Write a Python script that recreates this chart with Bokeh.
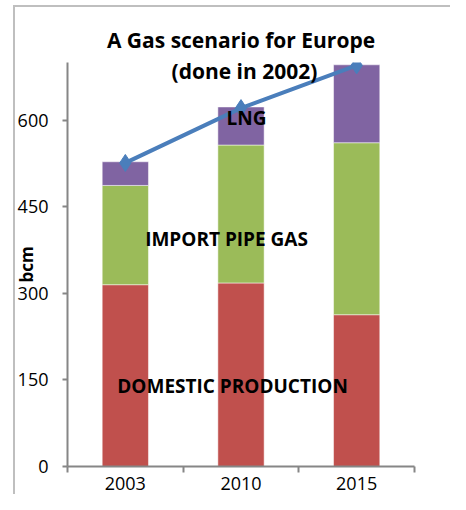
from bokeh.plotting import figure
from bokeh.models import ColumnDataSource, FixedTicker, Label, Range1d, InlineStyleSheet
from bokeh.embed import file_html
from bokeh.resources import INLINE

years = ["2003", "2010", "2015"]
domestic = [315, 318, 263]
import_pipe = [172, 239, 298]
lng = [41, 66, 135]
total = [526, 621, 695]
y_ticks = [0, 150, 300, 450, 600]

xpos = [i + 0.5 for i in range(len(years))]
src = ColumnDataSource(dict(x=xpos, domestic=domestic, import_pipe=import_pipe, lng=lng, total=total))

p = figure(width=450, height=494, output_backend="svg", toolbar_location=None,
           x_range=Range1d(0, 3), y_range=Range1d(0, 700),
           min_border_left=67, min_border_right=36, min_border_top=62, min_border_bottom=28,
           title="A Gas scenario for Europe")
p.outline_line_color = None
p.grid.visible = False

p.title.align = "center"
p.title.text_font = "Open Sans"
p.title.text_font_style = "bold"
p.title.text_font_size = "21px"
p.title.text_color = "black"
p.title.standoff = 17

p.vbar_stack(["domestic", "import_pipe", "lng"], x="x", width=0.4, source=src,
             color=["#C0504D", "#9BBB59", "#8064A2"], line_color="white", line_width=0.5)
p.line("x", "total", source=src, line_color="#4A7EBB", line_width=4)
p.scatter("x", "total", source=src, marker="diamond", size=17, fill_color="#4A7EBB", line_color="#4A7EBB")

ax = p.yaxis[0]
ax.ticker = FixedTicker(ticks=y_ticks)
ax.axis_line_color = "#868686"
ax.axis_line_width = 2
ax.major_tick_line_color = "#868686"
ax.major_tick_line_width = 2
ax.major_tick_out = 5
ax.major_tick_in = 0
ax.minor_tick_line_color = None
ax.major_label_standoff = 14
ax.major_label_text_font = "Open Sans"
ax.major_label_text_font_size = "18px"
ax.major_label_text_color = "black"
ax.axis_label = "bcm"
ax.axis_label_text_font = "Open Sans"
ax.axis_label_text_font_style = "bold"
ax.axis_label_text_font_size = "17px"
ax.axis_label_text_color = "black"
ax.axis_label_standoff = -23

bx = p.xaxis[0]
bx.ticker = FixedTicker(ticks=xpos, minor_ticks=[0, 1, 2, 3])
bx.major_label_overrides = {x: y for x, y in zip(xpos, years)}
bx.axis_line_color = "#868686"
bx.axis_line_width = 2
bx.major_tick_line_color = None
bx.major_tick_out = 0
bx.minor_tick_line_color = "#868686"
bx.minor_tick_line_width = 2
bx.minor_tick_out = 6
bx.minor_tick_in = 0
bx.major_label_standoff = 4
bx.major_label_text_font = "Open Sans"
bx.major_label_text_font_size = "18px"
bx.major_label_text_color = "black"

def lab(x, y, text, size):
    p.add_layout(Label(x=x, y=y, text=text, text_font="Open Sans", text_font_style="bold",
                       text_font_size=size, text_align="center", text_baseline="middle",
                       text_color="black"))

lab(1.53, 686, "(done in 2002)", "21px")
lab(1.547, 603, "LNG", "19px")
lab(1.375, 395, "IMPORT PIPE GAS", "19px")
lab(1.427, 140, "DOMESTIC PRODUCTION", "19px")

p.stylesheets = [InlineStyleSheet(css=":host::after{content:'';position:absolute;left:13px;top:5px;right:0;bottom:0;"
                                       "border-left:2px solid #BFBFBF;border-top:2px solid #BFBFBF;"
                                       "pointer-events:none;z-index:100;}")]

open("out.html", "w").write(file_html(p, INLINE))
